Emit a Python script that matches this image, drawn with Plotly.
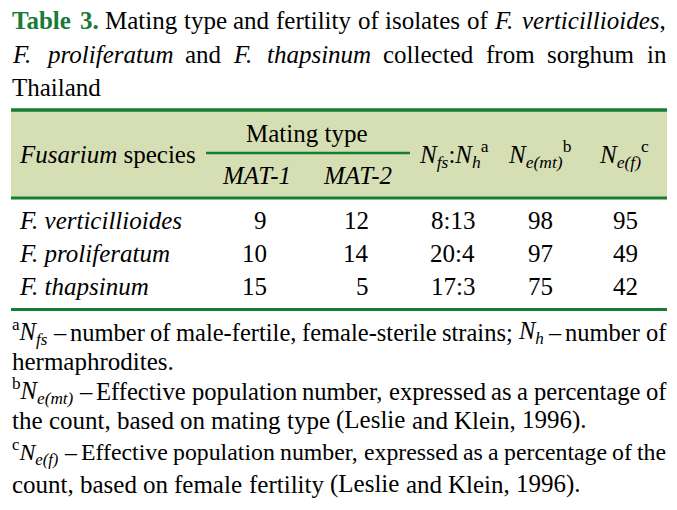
import re
import plotly.graph_objects as go

# ---------------- data ----------------
species = ["F. verticillioides", "F. proliferatum", "F. thapsinum"]
mat1 = [9, 10, 15]
mat2 = [12, 14, 5]
nfs_nh = ["8:13", "20:4", "17:3"]
ne_mt = [98, 97, 75]
ne_f = [95, 49, 42]

title_lines = [
    "<b>Table</b> <b>3.</b> Mating type and fertility of isolates of <i>F.</i> <i>verticillioides</i>,",
    "<i>F.</i> <i>proliferatum</i> and <i>F.</i> <i>thapsinum</i> collected from sorghum in",
    "Thailand",
]
foot_lines = [
    "<sup>a</sup><i>N<sub>fs</sub></i> – number of male-fertile, female-sterile strains; <i>N<sub>h</sub></i> – number of",
    "hermaphrodites.",
    "<sup>b</sup><i>N<sub>e(mt)</sub></i> – Effective population number, expressed as a percentage of",
    "the count, based on mating type (Leslie and Klein, 1996).",
    "<sup>c</sup><i>N<sub>e(f)</sub></i> – Effective population number, expressed as a percentage of the",
    "count, based on female fertility (Leslie and Klein, 1996).",
]

# ---------------- styling ----------------
FONT = "Liberation Serif"
GREEN = "#167d35"
TITLE_GREEN = "#1a7a3a"
HEAD_BG = "#d6deb4"
FS = 25
L, R = 11, 667

# Times metrics (per 1000 em)
W_R = {' ': 250, '(': 333, ')': 333, ',': 250, '-': 333, '.': 250, ':': 278, ';': 278, '–': 500,
       'A': 722, 'E': 611, 'F': 556, 'K': 722, 'L': 611, 'M': 889, 'N': 722, 'T': 611,
       'a': 444, 'b': 500, 'c': 444, 'd': 500, 'e': 444, 'f': 333, 'g': 500, 'h': 500, 'i': 278,
       'j': 278, 'k': 500, 'l': 278, 'm': 778, 'n': 500, 'o': 500, 'p': 500, 'q': 500, 'r': 333,
       's': 389, 't': 278, 'u': 500, 'v': 500, 'w': 722, 'x': 500, 'y': 500, 'z': 444}
for d in "0123456789":
    W_R[d] = 500
W_I = {' ': 250, '(': 333, ')': 333, ',': 250, '-': 333, '.': 250, ':': 333,
       'A': 611, 'F': 611, 'M': 833, 'N': 667, 'T': 556,
       'a': 500, 'b': 500, 'c': 444, 'd': 500, 'e': 444, 'f': 278, 'g': 500, 'h': 500, 'i': 278,
       'l': 278, 'm': 722, 'n': 500, 'o': 500, 'p': 500, 'r': 389, 's': 389, 't': 278, 'u': 500,
       'v': 444, 'y': 444}
W_B = {' ': 250, '.': 250, '3': 500, 'T': 667, 'a': 500, 'b': 556, 'l': 278, 'e': 444}


def word_width(html, fs):
    w = 0.0
    italic = bold = False
    scale = 1.0
    for t in re.split(r'(<[^>]+>)', html):
        if t.startswith('<'):
            closing = t.startswith('</')
            tag = t.strip('<>/')
            if tag == 'i':
                italic = not closing
            elif tag == 'b':
                bold = not closing
            elif tag in ('sub', 'sup'):
                scale = 1.0 if closing else 0.7
            continue
        for ch in t:
            tbl = W_B if bold else (W_I if italic else W_R)
            w += tbl.get(ch, W_R.get(ch, 500)) / 1000.0 * fs * scale
    return w


annotations = []


def add_text(x, y, text, fs=FS, xanchor="left", color="black"):
    annotations.append(dict(x=x, y=y, xref="x", yref="y", text=text, showarrow=False,
                            xanchor=xanchor, yanchor="middle", borderpad=0,
                            font=dict(family=FONT, size=round(fs, 1), color=color)))


def add_line(text, y, justify, fs=FS, x0=L, x1=R - 2, color_first=None, min_gap=0.22):
    words = text.split(" ")
    n = len(words)
    if justify and n > 1:
        em = sum(word_width(w, 1.0) for w in words)
        fit = (x1 - x0) / (em + (n - 1) * min_gap)
        fs = min(fs, fit)
    fs = round(fs, 1)
    widths = [word_width(w, fs) for w in words]
    if justify and n > 1:
        gap = (x1 - x0 - sum(widths)) / (n - 1)
    else:
        gap = 0.25 * fs
    x = x0
    for w, wd in zip(words, widths):
        col = color_first if (color_first and w.startswith("<b>")) else "black"
        add_text(x, y, w, fs=fs, color=col)
        x += wd + gap


# title
title_y = [20, 54, 87]
for i, (t, y) in enumerate(zip(title_lines, title_y)):
    add_line(t, y, justify=(i < len(title_lines) - 1), color_first=TITLE_GREEN)

# footnotes
foot_y = [332, 361, 391, 420, 452, 484]
foot_just = [True, False, True, False, True, False]
for t, y, j in zip(foot_lines, foot_y, foot_just):
    add_line(t, y, justify=j)

# header
add_text(18, 154, "<i>Fusarium</i> species")
add_text(307, 133, "Mating type", xanchor="center")
add_text(221, 175, "<i>MAT-1</i>")
add_text(322, 175, "<i>MAT-2</i>")
add_text(418, 154, "<i>N<sub>fs</sub></i>:<i>N<sub>h</sub></i><sup>a</sup>")
add_text(507, 154, "<i>N<sub>e(mt)</sub></i><sup>b</sup>")
add_text(598, 154, "<i>N<sub>e(f)</sub></i><sup>c</sup>")

# body rows
row_y = [220, 253, 286]
for i in range(len(species)):
    y = row_y[i]
    add_text(18, y, "<i>" + species[i] + "</i>")
    add_text(268, y, str(mat1[i]), xanchor="right")
    add_text(370, y, str(mat2[i]), xanchor="right")
    add_text(476, y, nfs_nh[i], xanchor="right")
    add_text(554, y, str(ne_mt[i]), xanchor="right")
    add_text(639, y, str(ne_f[i]), xanchor="right")

shapes = [
    dict(type="rect", xref="x", yref="y", x0=L, x1=R, y0=110, y1=198,
         fillcolor=HEAD_BG, line=dict(width=0), layer="below"),
    dict(type="line", xref="x", yref="y", x0=L, x1=R, y0=110, y1=110, line=dict(color=GREEN, width=3.5)),
    dict(type="line", xref="x", yref="y", x0=L, x1=R, y0=198, y1=198, line=dict(color=GREEN, width=3)),
    dict(type="line", xref="x", yref="y", x0=206, x1=410, y0=153, y1=153, line=dict(color=GREEN, width=2.5)),
    dict(type="line", xref="x", yref="y", x0=L, x1=R, y0=309.5, y1=309.5, line=dict(color=GREEN, width=3)),
]

fig = go.Figure(go.Scatter(x=[], y=[]))
fig.update_layout(
    width=677, height=510,
    margin=dict(l=0, r=0, t=0, b=0),
    paper_bgcolor="white", plot_bgcolor="white",
    xaxis=dict(range=[0, 677], visible=False, fixedrange=True),
    yaxis=dict(range=[510, 0], visible=False, fixedrange=True),
    annotations=annotations, shapes=shapes, showlegend=False,
)
fig.write_html("out.html", config={"displayModeBar": False, "staticPlot": True},
               post_script="document.body.style.margin='0px';")
